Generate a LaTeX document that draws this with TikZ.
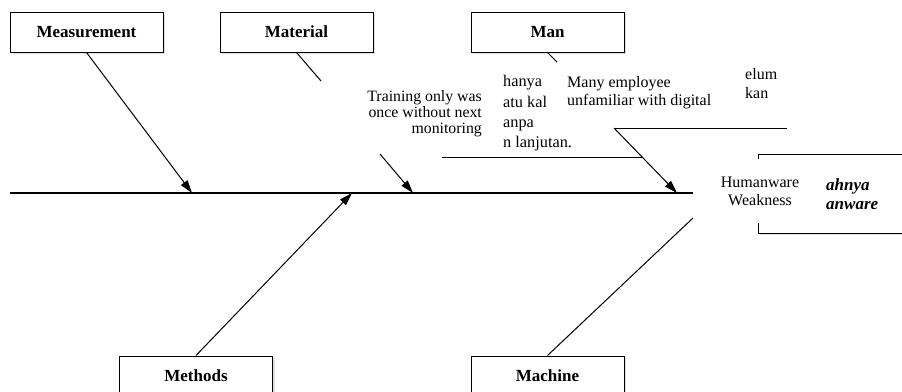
\documentclass[tikz,border=0pt]{standalone}
\usepackage{fontspec}
\setmainfont{Liberation Serif}
\usetikzlibrary{arrows.meta, shadows, positioning}

\begin{document}
\begin{tikzpicture}[
    x=1pt, y=-1pt,
    cause/.style={rectangle, draw, fill=white, line width=1pt, minimum width=153pt, minimum height=40pt, inner sep=0pt,
        font=\fontsize{17}{20}\selectfont\bfseries, drop shadow={shadow xshift=2pt, shadow yshift=-2pt, opacity=0.25}},
    note/.style={inner sep=0pt, font=\fontsize{16}{18.5}\selectfont},
    bone/.style={line width=1pt},
    arr/.style={line width=1pt, -{Triangle[length=13pt, width=8pt]}}
]
    \clip (0,0) rectangle (902,391);
    \coordinate (tail) at (10,193);

    % Head
    \node[rectangle, draw, fill=white, line width=1pt, minimum width=172pt, minimum height=79pt,
        drop shadow={shadow xshift=2pt, shadow yshift=-2pt, opacity=0.25}] (headbox) at (844,193.5) {};
    \node[rectangle, fill=white, inner sep=0pt, minimum width=134pt, minimum height=64pt, align=center,
        font=\fontsize{16}{18}\selectfont] (weak) at (760,191) {Humanware\\Weakness};
    \node[note, align=left, anchor=base west, font=\fontsize{17}{19}\selectfont\bfseries\itshape] (lemah) at (826,209) {ahnya\\anware};
    \draw[line width=1.5pt] (tail) -- (tail -| weak.west);

    % Measurement
    \node[cause] (measure) at (86.5,32) {Measurement};
    \coordinate (measureEnd) at (192,193);
    \draw[arr] (measure.south) -- (measureEnd);

    % Material
    \node[cause] (material) at (296.5,32) {Material};
    \coordinate (materialEnd) at (321,81);
    \draw[bone] (material.south) -- (materialEnd);
    \node[note, align=right, anchor=base east, font=\fontsize{15.8}{16}\selectfont] (training) at (482,133.5) {Training only was\\once without next\\monitoring};
    \coordinate (trainingStart) at (380,154);
    \coordinate (trainingEnd) at (413,193);
    \draw[arr] (trainingStart) -- (trainingEnd);

    % Man
    \node[cause] (man) at (547.5,32) {Man};
    \coordinate (manCut) at (557,62);
    \draw[bone] (man.south) -- (manCut);
    \node[note, align=left, anchor=base west, font=\fontsize{16.3}{20.3}\selectfont] (tanpa) at (503,147.6) {hanya\\atu kal\\anpa\\n lanjutan.};
    \coordinate (tanpaLeft) at (442,157);
    \coordinate (tanpaRight) at (643,157);
    \draw[bone] (tanpaLeft) -- (tanpaRight);
    \node[note, align=left, anchor=base west, font=\fontsize{16}{18.4}\selectfont] (digital) at (567,105.7) {Many employee\\unfamiliar with digital};
    \node[note, align=left, anchor=base west, font=\fontsize{16}{19}\selectfont] (belum) at (745,98) {elum\\kan};
    \coordinate (digitalLeft) at (614,128);
    \coordinate (digitalRight) at (787,128);
    \coordinate (manEnd) at (677,193);
    \draw[bone] (digitalLeft) -- (digitalRight);
    \draw[arr] (digitalLeft) -- (manEnd);

    % Methods
    \node[cause] (methods) at (196,376) {Methods};
    \coordinate (methodsEnd) at (352,193);
    \draw[arr] (methods.north) -- (methodsEnd);

    % Machine
    \node[cause] (machine) at (547.5,376) {Machine};
    \coordinate (machineEnd) at (693,218);
    \draw[bone] (machine.north) -- (machineEnd);
\end{tikzpicture}
\end{document}
